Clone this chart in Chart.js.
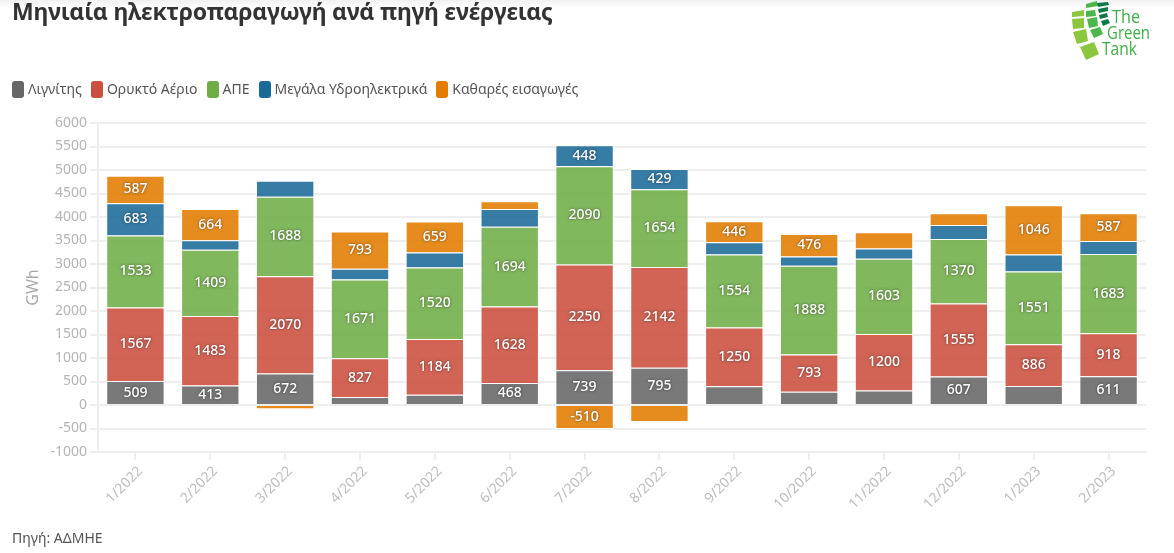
<!DOCTYPE html>
<html lang="el">
<head>
<meta charset="utf-8">
<title>Μηνιαία ηλεκτροπαραγωγή</title>
<script src="https://cdn.jsdelivr.net/npm/chart.js@4/dist/chart.umd.min.js"></script>
<style>
  html, body { margin: 0; height: 100%; background: #fff; overflow: hidden; font-family: "Noto Sans", sans-serif; }
  #wrap { position: relative; width: 1174px; height: 553px; }
  #chart { position: absolute; left: 0; top: 0; }
  h1 { position: absolute; left: 12px; top: -5px; margin: 0; font-size: 23px; font-weight: 700; letter-spacing: -0.2px; color: #333; white-space: nowrap; }
  #legend { position: absolute; left: 12px; top: 79px; display: flex; font-size: 14px; color: #555; line-height: 20px; }
  #legend span { display: flex; align-items: center; margin-right: 9px; }
  #legend i { width: 12px; height: 17px; border-radius: 3px; margin-right: 4px; }
  #source { position: absolute; left: 12px; top: 528px; font-size: 14px; color: #555; }
  #logo { position: absolute; left: 1070px; top: 0; }
  #shade { position: absolute; left: 0; top: 0; width: 100%; height: 8px; background: linear-gradient(#f1f1f1, #fff); }
</style>
</head>
<body>
<div id="wrap">
  <div id="shade"></div>
  <canvas id="chart" width="1174" height="553"></canvas>
  <h1>Μηνιαία ηλεκτροπαραγωγή ανά πηγή ενέργειας</h1>
  <div id="legend"></div>
  <div id="source">Πηγή: ΑΔΜΗΕ</div>
  <svg id="logo" width="84" height="62" viewBox="0 0 84 62">
    <g fill="#8cc63f">
      <polygon points="2,12 14,10 14,16 2,17"/>
      <polygon points="2,19 14,18 14,28 3,29"/>
      <polygon points="3,32 16,29 18,41 7,44"/>
      <polygon points="10,47 24,42 29,54 16,60"/>
    </g>
    <g fill="#4cb648">
      <polygon points="16,4 27,1 28,6 16,8"/>
      <polygon points="16,11 25,10 26,16 16,17"/>
      <polygon points="17,19 27,17 28,26 19,28"/>
      <polygon points="20,30 30,27 33,34 24,38"/>
    </g>
    <g fill="#0f7a45">
      <polygon points="27,3 38,2 39,5 28,7"/>
      <polygon points="28,9 38,7 38,11 29,13"/>
      <polygon points="29,15 37,13 38,17 30,19"/>
      <polygon points="31,21 38,19 40,23 33,26"/>
    </g>
    <g fill="#3fae49" font-family="Open Sans, sans-serif" font-size="18">
      <text x="42" y="23" textLength="28" lengthAdjust="spacingAndGlyphs">The</text>
      <text x="37" y="39" textLength="43" lengthAdjust="spacingAndGlyphs">Green</text>
      <text x="32" y="55" textLength="35" lengthAdjust="spacingAndGlyphs">Tank</text>
    </g>
  </svg>
</div>
<script>
const months = ['1/2022', '2/2022', '3/2022', '4/2022', '5/2022', '6/2022', '7/2022', '8/2022', '9/2022', '10/2022', '11/2022', '12/2022', '1/2023', '2/2023'];

const seriesNames = ['Λιγνίτης', 'Ορυκτό Αέριο', 'ΑΠΕ', 'Μεγάλα Υδροηλεκτρικά', 'Καθαρές εισαγωγές'];
const lignite = [509, 413, 672, 170, 220, 468, 739, 795, 400, 280, 310, 607, 405, 611];
const gas = [1567, 1483, 2070, 827, 1184, 1628, 2250, 2142, 1250, 793, 1200, 1555, 886, 918];
const res = [1533, 1409, 1688, 1671, 1520, 1694, 2090, 1654, 1554, 1888, 1603, 1370, 1551, 1683];
const hydro = [683, 200, 340, 230, 320, 380, 448, 429, 260, 200, 215, 300, 360, 280];
const imports = [587, 664, -90, 793, 659, 165, -510, -360, 446, 476, 350, 250, 1046, 587];
const seriesColors = ['#666666', '#cb4f3e', '#70ad47', '#1a6a99', '#e27c00'];
const labelMin = 410; // smaller segments carry no label

// white value labels with a soft dark halo
const valueLabels = {
  id: 'valueLabels',
  afterDatasetsDraw(chart) {
    const ctx = chart.ctx;
    ctx.save();
    ctx.font = '500 14px "Noto Sans"';
    ctx.textAlign = 'center';
    ctx.textBaseline = 'middle';
    ctx.fillStyle = '#fff';
    chart.data.datasets.forEach((ds, i) => {
      chart.getDatasetMeta(i).data.forEach((bar, j) => {
        if (Math.abs(ds.data[j]) < labelMin) return;
        ctx.shadowColor = 'rgba(0,0,0,0.55)';
        ctx.shadowBlur = 3;
        ctx.fillText(ds.data[j], bar.x, (bar.y + bar.base) / 2);
      });
    });
    ctx.restore();
  }
};

// legend as plain text next to tall rounded swatches
seriesNames.forEach((name, i) => {
  const item = document.createElement('span');
  const swatch = document.createElement('i');
  swatch.style.background = seriesColors[i];
  item.appendChild(swatch);
  item.appendChild(document.createTextNode(name));
  document.getElementById('legend').appendChild(item);
});

new Chart(document.getElementById('chart'), {
  type: 'bar',
  data: {
    labels: months,
    datasets: [lignite, gas, res, hydro, imports].map((values, i) => ({
      label: seriesNames[i],
      data: values,
      backgroundColor: seriesColors[i] + 'e0',
      borderColor: '#fff',
      borderWidth: 1,
      categoryPercentage: 1,
      barPercentage: 0.78
    }))
  },
  plugins: [valueLabels],
  options: {
    responsive: false,
    animation: false,
    layout: { padding: { left: 24, right: 28, top: 123, bottom: 0 } },
    plugins: {
      tooltip: { enabled: false },
      legend: { display: false }
    },
    scales: {
      x: {
        stacked: true,
        afterFit(scale) { scale.height = 101; },
        grid: { offset: false, drawOnChartArea: false, drawTicks: true, tickLength: 8, color: '#eeeeee', lineWidth: 2 },
        border: { color: '#eeeeee', width: 2 },
        ticks: { color: '#bdbdbd', maxRotation: 45, minRotation: 45, labelOffset: 5, font: { family: 'Noto Sans', size: 14 } }
      },
      y: {
        stacked: true,
        min: -1000,
        max: 6000,
        afterFit(scale) { scale.width = 74; },
        title: { display: true, text: 'GWh', color: '#aaaaaa', font: { family: 'Noto Sans', size: 16 }, padding: 0 },
        grid: { color: '#eeeeee', lineWidth: 2, tickLength: 8 },
        border: { color: '#eeeeee', width: 2 },
        ticks: { stepSize: 500, color: '#b5b5b5', padding: 3, font: { family: 'Noto Sans', size: 14 }, callback: v => String(v) }
      }
    }
  }
});
</script>
</body>
</html>
